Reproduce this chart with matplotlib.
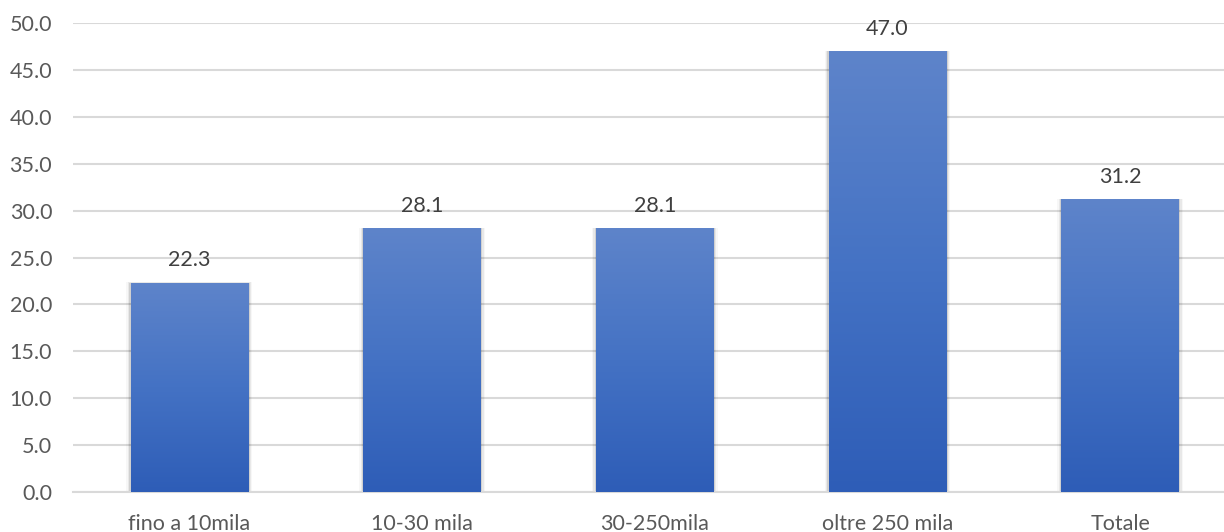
import numpy as np
import matplotlib
matplotlib.use("Agg")
import matplotlib.pyplot as plt
from matplotlib.colors import LinearSegmentedColormap

categories = ["fino a 10mila", "10-30 mila", "30-250mila", "oltre 250 mila", "Totale"]
values = [22.3, 28.1, 28.1, 47.0, 31.2]
yticks = [0, 5, 10, 15, 20, 25, 30, 35, 40, 45, 50]

TICK, LABEL, GRID = "#595959", "#404040", "#d9d9d9"
grad = LinearSegmentedColormap.from_list("bar", ["#2e5db7", "#4472c4", "#5e84ca"])

plt.rcParams["font.family"] = ["Lato", "DejaVu Sans"]

W, H = 1224, 532
fig = plt.figure(figsize=(W / 100, H / 100), dpi=100, facecolor="white")
ax = fig.add_axes([73 / W, 1 - 492 / H, (1224 - 73) / W, (492 - 23) / H])

x = np.arange(len(categories))
bars = ax.bar(x, values, width=0.505, color="none", zorder=3)

# vertical gradient fill + soft shadow for every bar
ramp = np.linspace(0, 1, 256).reshape(-1, 1)
for b in bars:
    x0, w, h = b.get_x(), b.get_width(), b.get_height()
    for k, a in enumerate((0.10, 0.06, 0.03)):
        d = 0.006 * (k + 1)
        ax.add_patch(plt.Rectangle((x0 - d, -0.08 * (k + 1)), w + 2 * d, h + 0.1 * (k + 1),
                                   facecolor="black", alpha=a, lw=0, zorder=2))
    im = ax.imshow(ramp, cmap=grad, aspect="auto", origin="lower",
                   extent=(x0, x0 + w, 0, h), zorder=3)
    im.set_clip_path(b)
    ax.annotate(f"{h:.1f}", (x0 + w / 2, h), xytext=(0, 9), textcoords="offset points",
                ha="center", va="bottom", fontsize=15.5, color=LABEL)

ax.set_xlim(-0.5, 4.446)
ax.set_ylim(0, 50)
ax.set_yticks(yticks)
ax.set_yticklabels([f"{v:.1f}" for v in yticks])
ax.set_xticks(x)
ax.set_xticklabels(categories)
ax.tick_params(axis="both", length=0, labelsize=15.5, labelcolor=TICK)
ax.tick_params(axis="x", pad=16)
ax.tick_params(axis="y", pad=15)
ax.grid(axis="y", color=GRID, lw=1.5, zorder=0)
ax.set_axisbelow(True)
for s in ("top", "right", "left"):
    ax.spines[s].set_visible(False)
ax.spines["bottom"].set_color(GRID)
ax.spines["bottom"].set_linewidth(1.5)

fig.savefig("out.png", dpi=100, facecolor="white")
